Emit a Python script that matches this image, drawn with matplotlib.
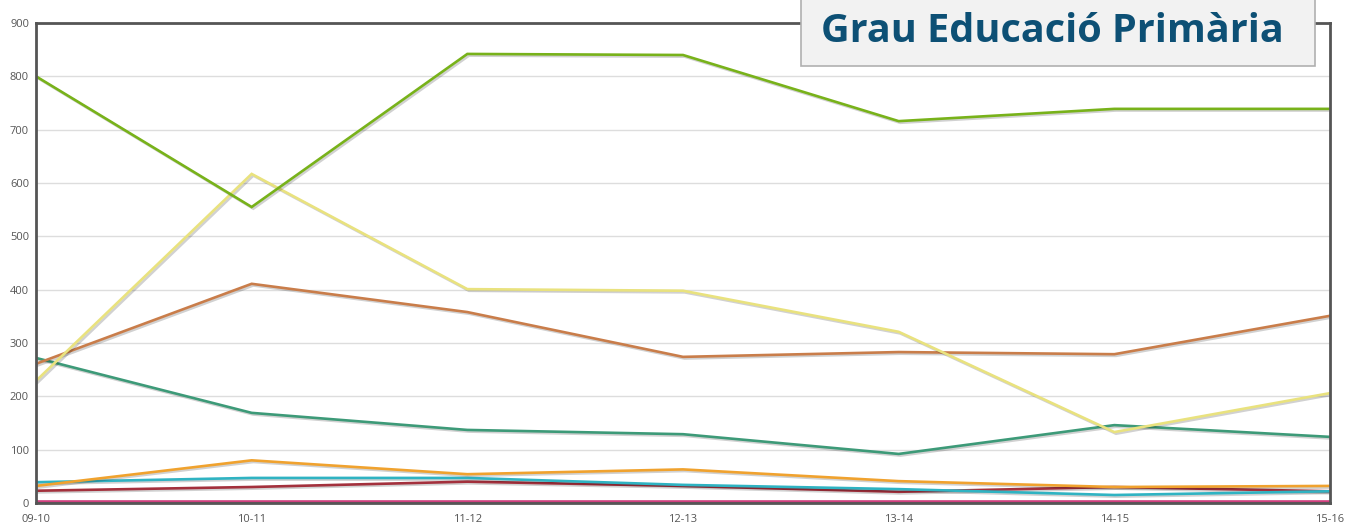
import matplotlib
matplotlib.use("Agg")
import matplotlib.pyplot as plt
import matplotlib.patheffects as pe
from matplotlib.patches import Rectangle

courses = ["09-10", "10-11", "11-12", "12-13", "13-14", "14-15", "15-16"]

lime = [800, 555, 842, 840, 716, 739, 739]
yellow = [229, 617, 401, 398, 321, 133, 206]
brown = [261, 411, 358, 274, 283, 279, 351]
teal = [272, 169, 137, 129, 92, 146, 124]
orange = [32, 80, 54, 63, 41, 30, 32]
cyan = [39, 47, 47, 34, 26, 15, 22]
darkred = [23, 30, 40, 32, 21, 30, 22]
pink = [3, 3, 3, 3, 3, 3, 3]
navy = [0, 0, 0, 0, 0, 0, 0]

series = [
    (navy, "#2b2b4a"),
    (pink, "#d0407f"),
    (darkred, "#a3303c"),
    (cyan, "#2fb3c2"),
    (orange, "#f0a22e"),
    (teal, "#3d9a78"),
    (brown, "#c97d4a"),
    (yellow, "#e9e27e"),
    (lime, "#78b21a"),
]

plt.rcParams['font.family'] = ['Open Sans', 'DejaVu Sans']

fig = plt.figure(figsize=(13.47, 5.25), dpi=100)
ax = fig.add_axes([36/1347, 22/525, (1330-36)/1347, (503-23)/525])

x = list(range(len(courses)))
shadow = [pe.SimpleLineShadow(offset=(1.2, -1.2), alpha=0.18), pe.Normal()]
for vals, col in series:
    ax.plot(x, vals, color=col, lw=1.9, path_effects=shadow, solid_joinstyle='miter')

ax.set_xlim(0, len(courses) - 1)
ax.set_ylim(0, 900)
ax.set_yticks(range(0, 901, 100))
ax.set_xticks(x)
ax.set_xticklabels(courses)
ax.grid(axis='y', color='#dddddd', lw=1)
ax.set_axisbelow(True)
for s in ax.spines.values():
    s.set_color('#555555')
    s.set_linewidth(2)
ax.tick_params(axis='both', length=0, labelsize=8, colors='#555555', pad=5)
ax.tick_params(axis='x', pad=8)

# title box
fig.patches.append(Rectangle((801/1347, (525-66)/525), (1315-801)/1347, 70/525,
                             transform=fig.transFigure, facecolor='#f2f2f2',
                             edgecolor='#b0b0b0', lw=1.2, zorder=5))
fig.text(1052/1347, (525-31)/525, "Grau Educació Primària", ha='center', va='center',
         fontsize=28.5, fontweight='bold', color='#0d5075', zorder=6)

fig.savefig("out.png", dpi=100)
